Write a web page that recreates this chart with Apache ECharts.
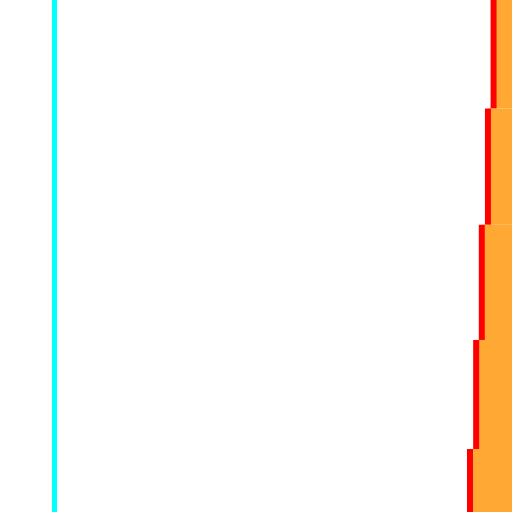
<!DOCTYPE html>
<html>
<head>
<meta charset="utf-8">
<script src="https://cdn.jsdelivr.net/npm/echarts@6/dist/echarts.min.js"></script>
<style>html,body{margin:0;padding:0;background:#fff;}#c{width:512px;height:512px;}</style>
</head>
<body>
<div id="c"></div>
<script>
// Step boundaries on the vertical value axis (0 = top, 100 = bottom)
const stepStarts = [0, 21.2, 43.9, 66.4, 87.7];
const stepEnds = [21.2, 43.9, 66.4, 87.7, 100];
// Horizontal position of the step edge for each band
const stepValues = [96.4, 95.3, 94.1, 93.0, 91.8];
// Reference vertical line
const refLineValue = 10.64;

const X_MAX = 100;
const chart = echarts.init(document.getElementById('c'), null, {renderer: 'canvas'});
const data = stepStarts.map((s, i) => [s, stepEnds[i], stepValues[i]]);

chart.setOption({
  animation: false,
  grid: {left: 0, right: 0, top: 0, bottom: 0},
  xAxis: {type: 'value', min: 0, max: X_MAX, show: false},
  yAxis: {type: 'value', min: 0, max: 100, inverse: true, show: false},
  series: [
    {
      type: 'custom',
      data: data,
      clip: true,
      renderItem: function (params, api) {
        const y0 = api.value(0), y1 = api.value(1), x = api.value(2);
        const pTop = api.coord([x, y0]);
        const pBot = api.coord([x, y1]);
        const pRight = api.coord([X_MAX, y0]);
        return {
          type: 'group',
          children: [
            {
              type: 'rect',
              shape: {x: pTop[0], y: pTop[1], width: pRight[0] - pTop[0], height: pBot[1] - pTop[1]},
              style: {fill: '#FFA833'}
            },
            {
              type: 'line',
              shape: {x1: pTop[0], y1: pTop[1], x2: pBot[0], y2: pBot[1]},
              style: {stroke: '#FF0000', lineWidth: 6, lineCap: 'butt'}
            }
          ]
        };
      }
    },
    {
      type: 'line',
      data: [],
      markLine: {
        silent: true,
        symbol: 'none',
        label: {show: false},
        lineStyle: {color: '#00FFFF', width: 5, type: 'solid'},
        data: [{xAxis: refLineValue}]
      }
    }
  ]
});
</script>
</body>
</html>
